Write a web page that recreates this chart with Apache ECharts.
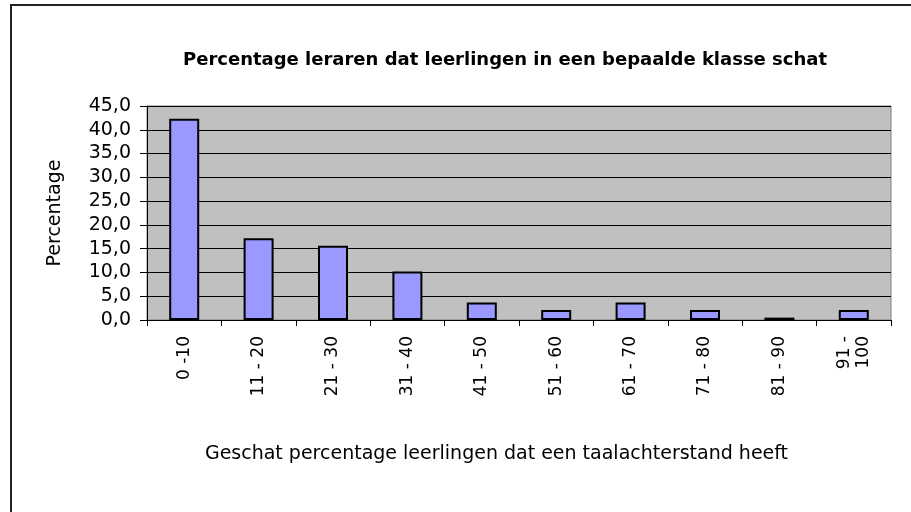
<!DOCTYPE html>
<html>
<head>
<meta charset="utf-8">
<script src="https://cdn.jsdelivr.net/npm/echarts@6/dist/echarts.min.js"></script>
<style>
    html, body { margin: 0; padding: 0; background: #fff; }
    #chart { width: 911px; height: 512px; }
</style>
</head>
<body>
<div id="chart"></div>
<script>
const categories = ['0 -10', '11 - 20', '21 - 30', '31 - 40', '41 - 50', '51 - 60', '61 - 70', '71 - 80', '81 - 90', '91 -\n100'];
const percentages = [42.3, 17.2, 15.6, 10.2, 3.7, 2.1, 3.7, 2.1, 0.5, 2.1];
const yTicks = [0, 5, 10, 15, 20, 25, 30, 35, 40, 45];

// the original Arial text is stretched sideways, DejaVu Sans is closer in width
const font = 'DejaVu Sans, Liberation Sans, sans-serif';

const chart = echarts.init(document.getElementById('chart'));

const option = {
    backgroundColor: '#fff',
    animation: false,
    title: {
        text: 'Percentage leraren dat leerlingen in een bepaalde klasse schat',
        left: 500,
        textAlign: 'center',
        top: 46,
        textStyle: { fontFamily: font, fontSize: 18, fontWeight: 'bold', color: '#000' }
    },
    graphic: [
        {
            type: 'rect',
            shape: { x: 11, y: 5, width: 1000, height: 600 },
            style: { fill: 'none', stroke: '#222', lineWidth: 2 },
            silent: true
        }
    ],
    grid: {
        left: 147,
        top: 106,
        width: 744,
        height: 214,
        show: true,
        backgroundColor: '#C0C0C0',
        borderColor: '#808080',
        borderWidth: 1
    },
    xAxis: {
        type: 'category',
        data: categories,
        name: 'Geschat percentage leerlingen dat een taalachterstand heeft',
        nameLocation: 'middle',
        nameGap: 125,
        nameTextStyle: { fontFamily: font, fontSize: 19, color: '#000', padding: [0, 45, 0, 0] },
        axisLine: { lineStyle: { color: '#000', width: 1 } },
        axisTick: { show: true, length: 6, alignWithLabel: false, lineStyle: { color: '#000' } },
        axisLabel: {
            rotate: 90,
            interval: 0,
            margin: 16,
            fontFamily: font,
            fontSize: 17,
            color: '#000',
            lineHeight: 19
        },
        splitLine: { show: false }
    },
    yAxis: {
        type: 'value',
        min: yTicks[0],
        max: yTicks[yTicks.length - 1],
        interval: 5,
        name: 'Percentage',
        nameLocation: 'middle',
        nameGap: 82,
        nameTextStyle: { fontFamily: font, fontSize: 19, color: '#000' },
        axisLine: { show: true, lineStyle: { color: '#000', width: 1 } },
        axisTick: { show: true, length: 7, lineStyle: { color: '#000' } },
        axisLabel: {
            margin: 16,
            fontFamily: font,
            fontSize: 19,
            color: '#000',
            formatter: v => v.toFixed(1).replace('.', ',')
        },
        splitLine: { show: true, lineStyle: { color: '#000', width: 1 } }
    },
    series: [
        {
            type: 'bar',
            data: percentages,
            barWidth: 30,
            itemStyle: { color: '#9999FF', borderColor: '#000', borderWidth: 2 }
        }
    ]
};

chart.setOption(option);
</script>
</body>
</html>
